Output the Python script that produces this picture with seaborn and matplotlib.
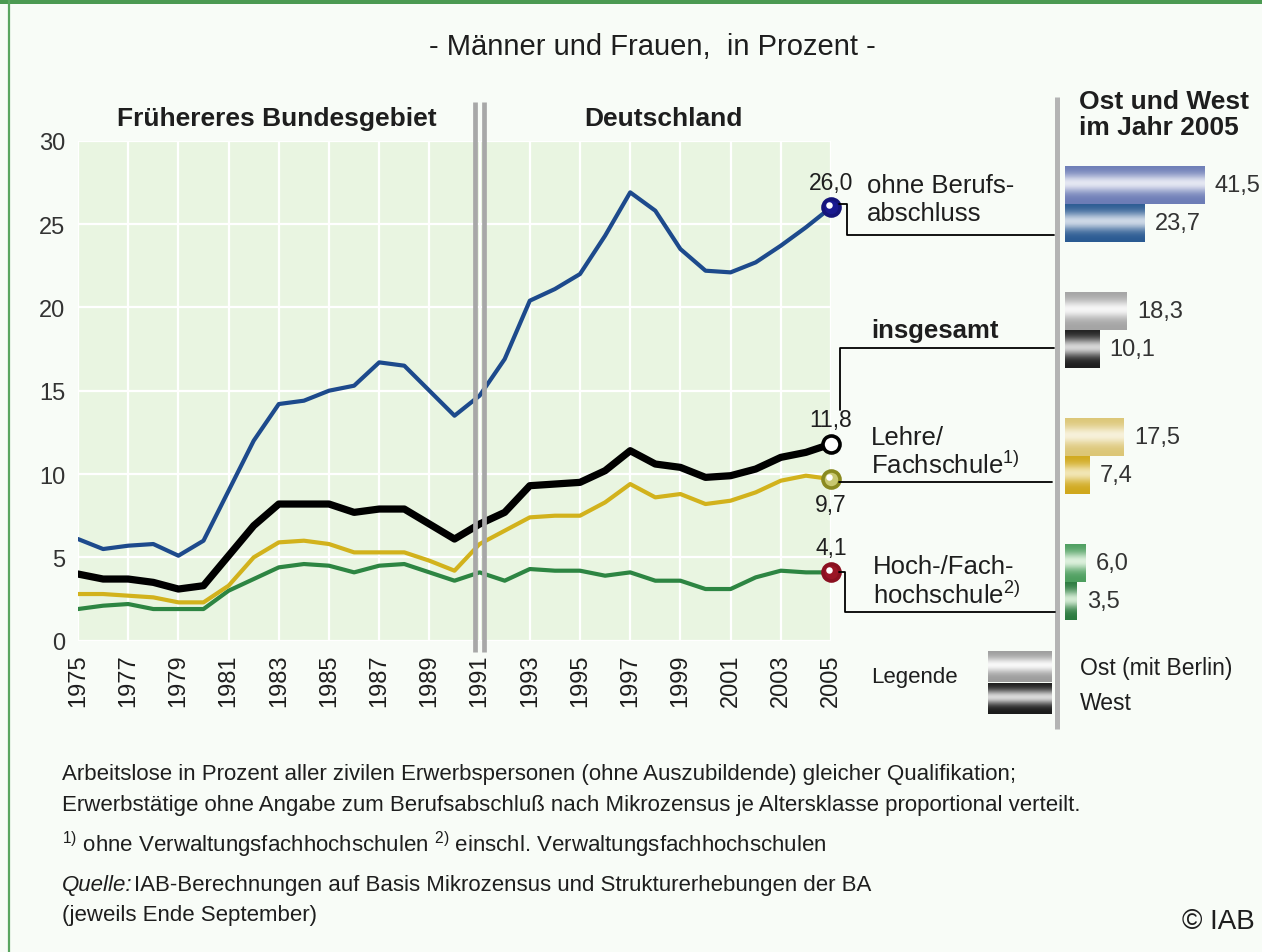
import numpy as np
import pandas as pd
import matplotlib
matplotlib.use("Agg")
import matplotlib.pyplot as plt
import seaborn as sns
from matplotlib.transforms import ScaledTranslation

# ---------------- data ----------------
years = list(range(1975, 2006))
ohne = [6.1, 5.5, 5.7, 5.8, 5.1, 6.0, 9.0, 12.0, 14.2, 14.4, 15.0, 15.3, 16.7, 16.5, 15.0, 13.5,
        14.7, 16.9, 20.4, 21.1, 22.0, 24.3, 26.9, 25.8, 23.5, 22.2, 22.1, 22.7, 23.7, 24.8, 26.0]
insgesamt = [4.0, 3.7, 3.7, 3.5, 3.1, 3.3, 5.1, 6.9, 8.2, 8.2, 8.2, 7.7, 7.9, 7.9, 7.0, 6.1,
             7.0, 7.7, 9.3, 9.4, 9.5, 10.2, 11.4, 10.6, 10.4, 9.8, 9.9, 10.3, 11.0, 11.3, 11.8]
lehre = [2.8, 2.8, 2.7, 2.6, 2.3, 2.3, 3.3, 5.0, 5.9, 6.0, 5.8, 5.3, 5.3, 5.3, 4.8, 4.2,
         5.8, 6.6, 7.4, 7.5, 7.5, 8.3, 9.4, 8.6, 8.8, 8.2, 8.4, 8.9, 9.6, 9.9, 9.7]
hoch = [1.9, 2.1, 2.2, 1.9, 1.9, 1.9, 3.0, 3.7, 4.4, 4.6, 4.5, 4.1, 4.5, 4.6, 4.1, 3.6,
        4.1, 3.6, 4.3, 4.2, 4.2, 3.9, 4.1, 3.6, 3.6, 3.1, 3.1, 3.8, 4.2, 4.1, 4.1]

bar_categories = ["ohne Berufsabschluss", "insgesamt", "Lehre/Fachschule", "Hoch-/Fachhochschule"]
ost_2005 = [41.5, 18.3, 17.5, 6.0]
west_2005 = [23.7, 10.1, 7.4, 3.5]

xtick_years = list(range(1975, 2006, 2))
yticks = [0, 5, 10, 15, 20, 25, 30]

# ---------------- style ----------------
sns.set_theme(style="darkgrid", rc={
    "axes.facecolor": "#e9f5e1",
    "figure.facecolor": "#f8fcf7",
    "grid.color": "white",
    "grid.linewidth": 1.6,
})
FONT = ["Liberation Sans", "DejaVu Sans"]
plt.rcParams["font.family"] = FONT
plt.rcParams["mathtext.fontset"] = "custom"
plt.rcParams["mathtext.rm"] = "Liberation Sans"
plt.rcParams["mathtext.it"] = "Liberation Sans:italic"
plt.rcParams["mathtext.bf"] = "Liberation Sans:bold"

TXT = "#1e1e1e"
W, H = 1262, 953
fig = plt.figure(figsize=(W / 100, H / 100), dpi=100)


def px_axes(x0, y0, x1, y1):
    return fig.add_axes([x0 / W, 1 - y1 / H, (x1 - x0) / W, (y1 - y0) / H])


# ---------------- main line chart ----------------
ax = px_axes(78, 141.7, 831, 641.7)
series_names = ["Hoch-/Fachhochschule", "Lehre/Fachschule", "insgesamt", "ohne Berufsabschluss"]
series_vals = [hoch, lehre, insgesamt, ohne]
df = pd.concat([pd.DataFrame({"Jahr": years, "Prozent": v, "Gruppe": n})
                for n, v in zip(series_names, series_vals)], ignore_index=True)
line_colors = {"ohne Berufsabschluss": "#1d4a8c", "insgesamt": "#000000",
               "Lehre/Fachschule": "#d2b21c", "Hoch-/Fachhochschule": "#2d8542"}
line_widths = {"ohne Berufsabschluss": 3.0, "insgesamt": 5.2,
               "Lehre/Fachschule": 3.0, "Hoch-/Fachhochschule": 3.0}
sns.lineplot(data=df, x="Jahr", y="Prozent", hue="Gruppe", hue_order=series_names,
             palette=line_colors, size="Gruppe", sizes=line_widths, size_order=series_names,
             legend=False, ax=ax)
ax.set_xlim(1975, 2005)
ax.set_ylim(0, 30)
ax.set_xticks(xtick_years)
ax.set_xticklabels([str(y) for y in xtick_years], rotation=90, fontsize=17, color=TXT)
ax.set_yticks(yticks)
ax.set_yticklabels([str(v) for v in yticks], fontsize=17, color="#333333")
ax.tick_params(axis="x", pad=9, length=0)
ax.tick_params(axis="y", pad=9, length=0)
ax.set_xlabel("")
ax.set_ylabel("")
for s in ax.spines.values():
    s.set_visible(False)

# end markers + labels
marker_cols = {"ohne Berufsabschluss": "#15157a", "insgesamt": "#000000",
               "Lehre/Fachschule": "#8a8a20", "Hoch-/Fachhochschule": "#8a1020"}
marker_face = {"ohne Berufsabschluss": "#1a1a90", "insgesamt": "#ffffff",
               "Lehre/Fachschule": "#c8c870", "Hoch-/Fachhochschule": "#9a1525"}
label_off = {"ohne Berufsabschluss": 18, "insgesamt": 18,
             "Lehre/Fachschule": -18, "Hoch-/Fachhochschule": 18}
for n, v in zip(series_names, series_vals):
    ax.scatter([years[-1]], [v[-1]], s=150, facecolor=marker_face[n], edgecolor=marker_cols[n],
               linewidth=2.6, zorder=6, clip_on=False)
    hl = ax.transData + ScaledTranslation(-2 / 100, 2 / 100, fig.dpi_scale_trans)
    if n != "insgesamt":
        ax.scatter([years[-1]], [v[-1]], s=22, color="white", zorder=7, clip_on=False,
                   transform=hl, linewidth=0)
    off = label_off[n]
    ax.annotate(f"{v[-1]:.1f}".replace(".", ","), (years[-1], v[-1]), xytext=(0, off),
                textcoords="offset points", ha="center", va="center", fontsize=16.5,
                color=TXT, annotation_clip=False)

# ---------------- bar panel (Ost / West 2005) ----------------
axb = px_axes(1065, 142, 1065 + 58 * 3.37, 646)
bdf = pd.DataFrame({
    "Gruppe": bar_categories * 2,
    "Region": ["Ost"] * 4 + ["West"] * 4,
    "Wert": ost_2005 + west_2005,
})
sns.barplot(data=bdf, y="Gruppe", x="Wert", hue="Region", hue_order=["Ost", "West"],
            order=bar_categories, orient="h", width=0.6, legend=False, ax=axb,
            palette={"Ost": "#cccccc", "West": "#555555"}, linewidth=0, saturation=1)
axb.set_xlim(0, 58)
axb.set_ylim(3.5, -0.5)
axb.axis("off")

grad_cols = {
    ("ohne Berufsabschluss", "Ost"): ("#6c7cb6", "#e4e7f2"),
    ("ohne Berufsabschluss", "West"): ("#2a5a92", "#cdd8e6"),
    ("insgesamt", "Ost"): ("#a4a4a4", "#f6f6f6"),
    ("insgesamt", "West"): ("#1e1e1e", "#d6d6d6"),
    ("Lehre/Fachschule", "Ost"): ("#dcc676", "#f7f1da"),
    ("Lehre/Fachschule", "West"): ("#d0a81c", "#f2e6b4"),
    ("Hoch-/Fachhochschule", "Ost"): ("#4c9e5e", "#dcf0dc"),
    ("Hoch-/Fachhochschule", "West"): ("#2a7a3e", "#d2ead2"),
}


def gradient(dark, light, n=64):
    t = np.linspace(0, 1, n)
    p = np.exp(-((t - 0.45) / 0.24) ** 2)
    d = np.array(matplotlib.colors.to_rgb(dark))
    l = np.array(matplotlib.colors.to_rgb(light))
    return (d[None, :] * (1 - p[:, None]) + l[None, :] * p[:, None])[:, None, :]


for patch in axb.patches:
    x0, y0 = patch.get_x(), patch.get_y()
    w, h = patch.get_width(), patch.get_height()
    if w <= 0:
        continue
    yc = y0 + h / 2
    ci = int(round(yc))
    region = "Ost" if yc < ci else "West"
    dark, light = grad_cols[(bar_categories[ci], region)]
    axb.imshow(gradient(dark, light), extent=(x0, x0 + w, y0 + h, y0), origin="upper",
               aspect="auto", zorder=3, interpolation="bilinear")
    patch.set_visible(False)
    axb.text(x0 + w + 3, yc, f"{w:.1f}".replace(".", ","), va="center", ha="left",
             fontsize=17, color="#333333")
axb.set_xlim(0, 58)
axb.set_ylim(3.5, -0.5)

# ---------------- overlay: frame, dividers, annotations ----------------
ov = fig.add_axes([0, 0, 1, 1])
ov.set_xlim(0, W)
ov.set_ylim(H, 0)
ov.axis("off")
ov.patch.set_alpha(0)


def to_px(x, y):
    dx, dy = ax.transData.transform((x, y))
    return dx, H - dy


# frame
ov.fill_between([0, W], 0, 5, color="#4b9a52", lw=0)
ov.plot([9, 9], [0, H], color="#5aa560", lw=1.6)

# 1991 double divider
xd, _ = to_px(1991, 0)
for dx in (-4.6, 4.6):
    ov.plot([xd + dx, xd + dx], [103, 653], color="#a8a8a8", lw=3.4, solid_capstyle="butt")
# right panel divider
ov.plot([1057, 1057], [98, 730], color="#b4b4b4", lw=3.6, solid_capstyle="butt")

# titles
ov.text(652, 47, "- Männer und Frauen,  in Prozent -", ha="center", va="center",
        fontsize=21, color=TXT)
ov.text(277, 119, "Frühereres Bundesgebiet", ha="center", va="center", fontsize=19,
        fontweight="bold", color=TXT)
ov.text(663, 119, "Deutschland", ha="center", va="center", fontsize=19,
        fontweight="bold", color=TXT)
ov.text(1079, 115, "Ost und West\nim Jahr 2005", ha="left", va="center", fontsize=19,
        fontweight="bold", color=TXT, linespacing=1.08)

# connectors
mx, my = to_px(2005, ohne[-1])
ov.plot([mx + 8, 847, 847, 1054], [my - 3, my - 3, 236, 236], color="black", lw=1.3)
mx, my = to_px(2005, insgesamt[-1])
ov.plot([840, 840, 1054], [my - 34, 349, 349], color="black", lw=1.3)
mx, my = to_px(2005, lehre[-1])
ov.plot([mx + 8, 1052], [my + 3, my + 3], color="black", lw=1.3)
mx, my = to_px(2005, hoch[-1])
ov.plot([mx + 8, 845, 845, 1055], [my, my, 613, 613], color="black", lw=1.3)

# category labels
LBL = 18.5
ov.text(867, 186, "ohne Berufs-", ha="left", va="center", fontsize=LBL, color=TXT)
ov.text(867, 214, "abschluss", ha="left", va="center", fontsize=LBL, color=TXT)
ov.text(871, 331, "insgesamt", ha="left", va="center", fontsize=LBL,
        fontweight="bold", color=TXT)
ov.text(871, 438, "Lehre/", ha="left", va="center", fontsize=LBL, color=TXT)
ov.text(871, 465, "Fachschule$^{1)}$", ha="left", va="center", fontsize=LBL, color=TXT)
ov.text(873, 567, "Hoch-/Fach-", ha="left", va="center", fontsize=LBL, color=TXT)
ov.text(873, 595, "hochschule$^{2)}$", ha="left", va="center", fontsize=LBL, color=TXT)

# legend
ov.text(871, 678, "Legende", ha="left", va="center", fontsize=16, color=TXT)
ov.imshow(gradient("#9c9c9c", "#f8f8f8"), extent=(988, 1052, 683, 652), origin="upper",
          aspect="auto", interpolation="bilinear")
ov.imshow(gradient("#1a1a1a", "#dadada"), extent=(988, 1052, 715, 684), origin="upper",
          aspect="auto", interpolation="bilinear")
ov.set_xlim(0, W)
ov.set_ylim(H, 0)
ov.text(1080, 669, "Ost (mit Berlin)", ha="left", va="center", fontsize=16.5, color=TXT)
ov.text(1080, 704, "West", ha="left", va="center", fontsize=16.5, color=TXT)

# footer
fs = 16
ov.text(62, 775, "Arbeitslose in Prozent aller zivilen Erwerbspersonen (ohne Auszubildende) "
        "gleicher Qualifikation;", ha="left", va="center", fontsize=fs, color=TXT)
ov.text(62, 806, "Erwerbstätige ohne Angabe zum Berufsabschluß nach Mikrozensus je "
        "Altersklasse proportional verteilt.", ha="left", va="center", fontsize=fs, color=TXT)
ov.text(62, 845, "$^{1)}$ ohne Verwaltungsfachhochschulen $^{2)}$ einschl. "
        "Verwaltungsfachhochschulen", ha="left", va="center", fontsize=fs, color=TXT)
q = ov.text(62, 886, "Quelle:", ha="left", va="center", fontsize=fs, color=TXT,
            fontstyle="italic")
ov.annotate("IAB-Berechnungen auf Basis Mikrozensus und Strukturerhebungen der BA",
            xy=(1, 0.5), xycoords=q, xytext=(1, 0), textcoords="offset points",
            ha="left", va="center", fontsize=fs, color=TXT)
ov.text(62, 916, "(jeweils Ende September)", ha="left", va="center", fontsize=fs, color=TXT)
ov.text(1255, 922, "© IAB", ha="right", va="center", fontsize=20, color=TXT)

fig.savefig("out.png", dpi=100, facecolor=fig.get_facecolor())
